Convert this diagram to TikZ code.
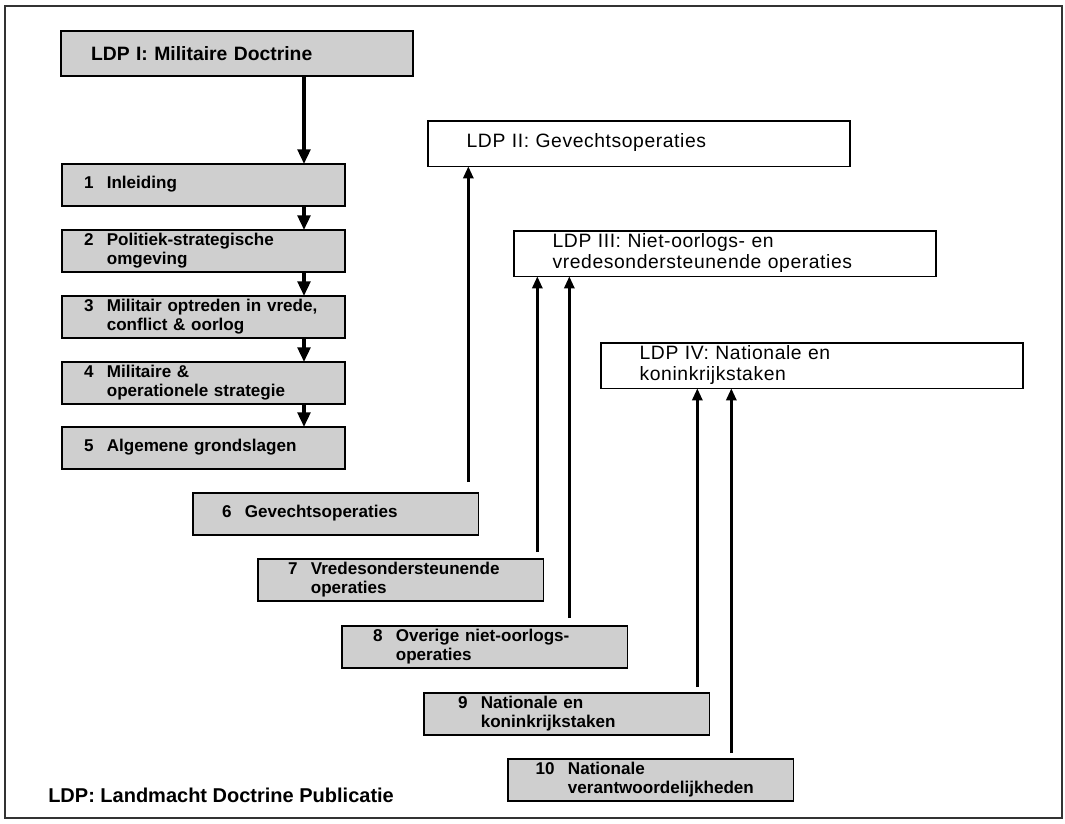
\documentclass[tikz,border=0pt]{standalone}
\usepackage{fontspec}
\setmainfont{Liberation Sans}
\newfontfamily\widefont[LetterSpace=3]{Liberation Sans}
\usetikzlibrary{arrows.meta}
\usetikzlibrary{calc}

\newcommand{\hfdst}[3]{\hspace*{#1}\begin{tabular}{@{}r@{\hspace{10pt}}l@{}}#2 & #3\end{tabular}}
\newcommand{\ldptext}[1]{\hspace*{29pt}\begin{tabular}{@{}l@{}}#1\end{tabular}}

\tikzset{
  hfdbox/.style={draw, line width=1pt, fill=gray!38, anchor=north west, inner sep=0pt, outer sep=0pt,
    text width=#1, minimum height=31.5pt, align=left, font=\fontsize{12.8}{14.2}\selectfont\bfseries},
  hfdbox/.default=212.25pt,
  ldpbox/.style={draw, line width=0.8pt, fill=white, anchor=north west, inner sep=0pt, outer sep=0pt,
    text width=316.5pt, minimum height=34pt, align=left, font=\widefont\fontsize{14.5}{15.5}\selectfont},
  pijl/.style={-{Triangle[length=11pt,width=9.5pt]}, line width=2.6pt},
  pijlop/.style={-{Triangle[length=9pt,width=7.5pt]}, line width=2.1pt}
}

\begin{document}
\begin{tikzpicture}[x=0.75pt, y=-0.75pt]

  \useasboundingbox (0,0) rectangle (1065,824);
  \draw[line width=0.8pt, black!80] (5,6) rectangle (1062,818);

  % LDP I en de hoofdstukken 1-5
  \node[hfdbox=264pt, minimum height=33.75pt, font=\fontsize{14.5}{16}\selectfont\bfseries]
        (ldpI) at (61,31) {\hspace*{22.5pt}LDP I: Militaire Doctrine};

  \node[hfdbox] (h1) at (62,164) {\hfdst{16.5pt}{1}{Inleiding}};
  \node[hfdbox] (h2) at (62,230) {\hfdst{16.5pt}{2}{Politiek-strategische\\ & omgeving}};
  \node[hfdbox] (h3) at (62,296) {\hfdst{16.5pt}{3}{Militair optreden in vrede,\\ & conflict \& oorlog}};
  \node[hfdbox] (h4) at (62,362) {\hfdst{16.5pt}{4}{Militaire \&\\ & operationele strategie}};
  \node[hfdbox] (h5) at (62,427) {\hfdst{16.5pt}{5}{Algemene grondslagen}};

  % hoofdstukken 6-10
  \node[hfdbox=214pt] (h6)  at (193,493) {\hfdst{21.75pt}{6}{Gevechtsoperaties}};
  \node[hfdbox=214pt] (h7)  at (258,559) {\hfdst{22.5pt}{7}{Vredesondersteunende\\ & operaties}};
  \node[hfdbox=214pt] (h8)  at (342,626) {\hfdst{23.25pt}{8}{Overige niet-oorlogs-\\ & operaties}};
  \node[hfdbox=214pt] (h9)  at (424,693) {\hfdst{25.5pt}{9}{Nationale en\\ & koninkrijkstaken}};
  \node[hfdbox=214pt] (h10) at (508,759) {\hfdst{20.75pt}{10}{Nationale\\ & verantwoordelijkheden}};

  % LDP II-IV
  \node[ldpbox] (ldpII)  at (428,121) {\ldptext{LDP II: Gevechtsoperaties}};
  \node[ldpbox] (ldpIII) at (514,231) {\ldptext{LDP III: Niet-oorlogs- en\\ vredesondersteunende operaties}};
  \node[ldpbox] (ldpIV)  at (601,343) {\ldptext{LDP IV: Nationale en\\ koninkrijkstaken}};

  \node[anchor=west, inner sep=0pt, font=\fontsize{15}{16}\selectfont\bfseries]
        (legenda) at (48,795) {LDP: Landmacht Doctrine Publicatie};

  % pijlen
  \coordinate (spine) at (304,0);
  \draw[pijl] (ldpI.south -| spine) -- (h1.north -| spine);
  \foreach \i/\j in {1/2, 2/3, 3/4, 4/5}
    \draw[pijl] (h\i.south -| spine) -- (h\j.north -| spine);

  \coordinate (s6)  at ($(h6.north east)+(-10,-11)$);
  \coordinate (s7)  at ($(h7.north east)+(-6,-7)$);
  \coordinate (s8)  at ($(h8.north east)+(-58,-8)$);
  \coordinate (s9)  at ($(h9.north east)+(-12,-6)$);
  \coordinate (s10) at ($(h10.north east)+(-62,-6)$);

  \draw[pijlop] (s6)  -- (s6  |- ldpII.south);
  \draw[pijlop] (s7)  -- (s7  |- ldpIII.south);
  \draw[pijlop] (s8)  -- (s8  |- ldpIII.south);
  \draw[pijlop] (s9)  -- (s9  |- ldpIV.south);
  \draw[pijlop] (s10) -- (s10 |- ldpIV.south);

\end{tikzpicture}
\end{document}
